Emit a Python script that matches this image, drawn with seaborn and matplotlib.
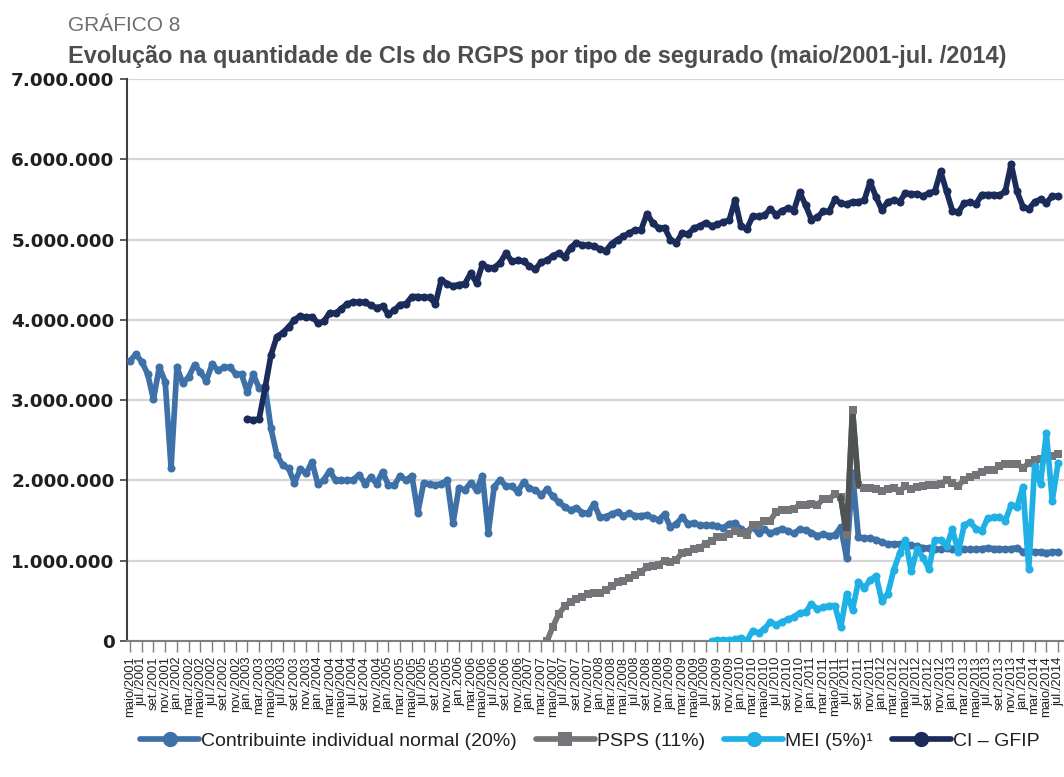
import numpy as np
import pandas as pd
import matplotlib
matplotlib.use("Agg")
import matplotlib.pyplot as plt
from matplotlib.lines import Line2D
from matplotlib.ticker import FuncFormatter, FixedLocator
import seaborn as sns

nan = np.nan

# ---------------- data (values in millions) ----------------
tick_labels = [
    "maio/2001", "jul./2001", "set./2001", "nov./2001",
    "jan./2002", "mar./2002", "maio/2002", "jul./2002", "set./2002", "nov./2002",
    "jan./2003", "mar./2003", "maio/2003", "jul./2003", "set./2003", "nov.2003",
    "jan./2004", "mar./2004", "maio/2004", "jul./2004", "set./2004", "nov./2004",
    "jan./2005", "mar./2005", "maio/2005", "jul./2005", "set./2005", "nov./2005",
    "jan.2006", "mar.2006", "maio/2006", "jul./2006", "set./2006", "nov./2006",
    "jan./2007", "mar./2007", "maio/2007", "jul./2007", "set./2007", "nov./2007",
    "jan./2008", "mar./2008", "mai./2008", "jul./2008", "set./2008", "nov./2008",
    "jan./2009", "mar./2009", "maio/2009", "jul./2009", "set./2009", "nov./2009",
    "jan./2010", "mar./2010", "maio/2010", "jul./2010", "set./2010", "nov./2010",
    "jan./2011", "mar./2011", "maio/2011", "jul./2011", "set./2011", "nov./2011",
    "jan./2012", "mar./2012", "maio/2012", "jul./2012", "set./2012", "nov./2012",
    "jan./2013", "mar./2013", "maio/2013", "jul./2013", "set./2013", "nov./2013",
    "jan./2014", "mar./2014", "maio/2014", "jul./2014",
]

ci_normal = [
    3.49, 3.57, 3.48, 3.33, 3.01, 3.41, 3.23, 2.16, 3.41, 3.21,
    3.29, 3.44, 3.35, 3.24, 3.45, 3.37, 3.41, 3.41, 3.33, 3.32,
    3.10, 3.32, 3.15, 3.17, 2.65, 2.32, 2.19, 2.15, 1.97, 2.14,
    2.09, 2.23, 1.95, 2.01, 2.12, 2.00, 2.00, 2.00, 2.01, 2.07,
    1.96, 2.04, 1.96, 2.11, 1.94, 1.94, 2.06, 2.00, 2.06, 1.60,
    1.97, 1.95, 1.94, 1.96, 2.00, 1.47, 1.91, 1.88, 1.97, 1.88,
    2.06, 1.35, 1.92, 2.01, 1.93, 1.93, 1.86, 1.98, 1.90, 1.88,
    1.82, 1.89, 1.80, 1.73, 1.67, 1.63, 1.66, 1.60, 1.59, 1.71,
    1.54, 1.55, 1.58, 1.61, 1.56, 1.59, 1.56, 1.56, 1.57, 1.53,
    1.51, 1.58, 1.42, 1.46, 1.54, 1.46, 1.47, 1.44, 1.44, 1.44,
    1.43, 1.41, 1.46, 1.47, 1.39, 1.36, 1.42, 1.34, 1.39, 1.34,
    1.37, 1.40, 1.37, 1.34, 1.39, 1.38, 1.35, 1.31, 1.33, 1.31,
    1.32, 1.42, 1.03, 2.09, 1.30, 1.28, 1.28, 1.26, 1.23, 1.21,
    1.21, 1.21, 1.21, 1.19, 1.18, 1.16, 1.16, 1.15, 1.14, 1.16,
    1.15, 1.14, 1.14, 1.14, 1.14, 1.15, 1.16, 1.15, 1.15, 1.14,
    1.15, 1.16, 1.11, 1.12, 1.11, 1.11, 1.10, 1.11, 1.11,
]

psps = [nan] * 71 + [
    0.00, 0.18, 0.34, 0.43, 0.49, 0.52, 0.55, 0.59, 0.60,
    0.60, 0.63, 0.68, 0.73, 0.75, 0.78, 0.82, 0.86, 0.92, 0.93,
    0.95, 1.00, 0.99, 1.01, 1.10, 1.11, 1.14, 1.16, 1.21, 1.25,
    1.29, 1.30, 1.33, 1.37, 1.34, 1.32, 1.45, 1.44, 1.50, 1.50,
    1.61, 1.63, 1.63, 1.64, 1.70, 1.70, 1.71, 1.69, 1.77, 1.77,
    1.83, 1.79, 1.32, 2.88, 1.94, 1.91, 1.90, 1.89, 1.87, 1.89,
    1.90, 1.87, 1.93, 1.89, 1.92, 1.93, 1.94, 1.94, 1.96, 2.00,
    1.97, 1.93, 2.01, 2.04, 2.07, 2.11, 2.13, 2.13, 2.18, 2.20,
    2.20, 2.21, 2.15, 2.22, 2.25, 2.27, 2.27, 2.30, 2.33,
]

mei = [nan] * 99 + [
    0.00,
    0.01, 0.01, 0.01, 0.02, 0.04, 0.00, 0.13, 0.10, 0.15, 0.24,
    0.20, 0.24, 0.27, 0.30, 0.35, 0.36, 0.46, 0.40, 0.42, 0.44,
    0.44, 0.17, 0.59, 0.39, 0.74, 0.66, 0.76, 0.81, 0.50, 0.59,
    0.88, 1.09, 1.26, 0.87, 1.14, 1.04, 0.90, 1.26, 1.26, 1.18,
    1.39, 1.11, 1.44, 1.48, 1.40, 1.37, 1.53, 1.54, 1.55, 1.50,
    1.69, 1.67, 1.92, 0.90, 2.18, 1.96, 2.59, 1.75, 2.22,
]

ci_gfip = [nan] * 20 + [
    2.77, 2.75, 2.77, 3.15, 3.56, 3.79, 3.84, 3.91, 4.00, 4.05,
    4.03, 4.04, 3.96, 3.98, 4.09, 4.08, 4.14, 4.20, 4.22, 4.22,
    4.22, 4.18, 4.15, 4.17, 4.07, 4.12, 4.19, 4.20, 4.29, 4.29,
    4.28, 4.28, 4.20, 4.50, 4.45, 4.42, 4.44, 4.45, 4.58, 4.46,
    4.69, 4.65, 4.65, 4.71, 4.83, 4.73, 4.74, 4.73, 4.67, 4.63,
    4.72, 4.74, 4.80, 4.83, 4.78, 4.90, 4.96, 4.93, 4.93, 4.92,
    4.88, 4.86, 4.95, 5.00, 5.04, 5.08, 5.12, 5.12, 5.32, 5.21,
    5.14, 5.15, 5.00, 4.96, 5.08, 5.07, 5.14, 5.17, 5.21, 5.17,
    5.19, 5.22, 5.24, 5.49, 5.17, 5.13, 5.29, 5.29, 5.30, 5.38,
    5.31, 5.36, 5.39, 5.36, 5.59, 5.43, 5.25, 5.28, 5.35, 5.35,
    5.50, 5.45, 5.44, 5.47, 5.47, 5.49, 5.72, 5.53, 5.37, 5.47,
    5.49, 5.47, 5.58, 5.57, 5.57, 5.54, 5.58, 5.60, 5.85, 5.60,
    5.36, 5.34, 5.45, 5.47, 5.44, 5.56, 5.56, 5.56, 5.55, 5.60,
    5.94, 5.60, 5.41, 5.38, 5.47, 5.50, 5.46, 5.54, 5.54,
]

series_names = [
    "Contribuinte individual normal (20%)",
    "PSPS (11%)",
    "MEI (5%)\u00b9",
    "CI \u2013 GFIP",
]
series_values = [ci_normal, psps, mei, ci_gfip]
colors = ["#3F71A9", "#737578", "#1FB1E6", "#1B2C5B"]
markers = ["o", "s", "o", "o"]

# ---------------- build data frame ----------------
n = len(ci_normal)
frames = []
for name, vals in zip(series_names, series_values):
    frames.append(pd.DataFrame({
        "mes": np.arange(n),
        "valor": np.array(vals, dtype=float) * 1e6,
        "serie": name,
    }))
df = pd.concat(frames, ignore_index=True).dropna()

# ---------------- figure ----------------
sns.set_theme(style="white")
plt.rcParams["font.family"] = ["Liberation Sans", "DejaVu Sans"]

fig = plt.figure(figsize=(10.64, 7.77), dpi=100)
ax = fig.add_axes([127 / 1064, 1 - 641 / 777, 937 / 1064, (641 - 79) / 777])

LW = 4.1
for name, col, mk in zip(series_names, colors, markers):
    sub = df[df["serie"] == name]
    sns.lineplot(data=sub, x="mes", y="valor", ax=ax, color=col,
                 linewidth=LW, marker=mk, markersize=5.8 if mk == "o" else 6.3,
                 markeredgewidth=0, errorbar=None, legend=False, zorder=3,
                 solid_joinstyle="round")

# darker stretch of the PSPS spike
sp = df[(df["serie"] == series_names[1]) & (df["mes"] >= 121) & (df["mes"] <= 124)]
ax.plot(sp["mes"], sp["valor"], color="#4F5354", lw=LW, zorder=3.5)
spm = sp[(sp["mes"] >= 122) & (sp["mes"] <= 123)]
ax.plot(spm["mes"], spm["valor"], ls="none", marker="s", ms=6.3, mew=0,
        color="#737578", zorder=3.6)

# axes styling
ax.set_xlim(-0.5, 159.0)
ax.set_ylim(0, 7e6)
ax.set_xlabel("")
ax.set_ylabel("")

ax.yaxis.set_major_locator(FixedLocator(np.arange(0, 7.01e6, 1e6)))
ax.yaxis.set_major_formatter(FuncFormatter(
    lambda v, p: "0" if v == 0 else f"{int(round(v)):,}".replace(",", ".")))
ax.grid(axis="y", color="#D6D6D6", linewidth=1.6, zorder=0)
ax.grid(axis="x", visible=False)
ax.set_axisbelow(True)

ax.set_xticks(np.arange(0, n, 2))
ax.set_xticklabels(tick_labels, rotation=90, fontsize=9.4, color="#231F20")
ax.tick_params(axis="x", direction="out", length=8, width=1,
               color="#7F7F7F", pad=3, bottom=True)
ax.tick_params(axis="y", direction="out", length=5, width=1.2,
               color="#404040", pad=4, left=True)
for lbl in ax.get_yticklabels():
    lbl.set_fontfamily("DejaVu Sans")
    lbl.set_fontweight("bold")
    lbl.set_fontsize(13.2)
    lbl.set_color("#231F20")

for s in ["top", "right"]:
    ax.spines[s].set_visible(False)
ax.spines["left"].set_color("#404040")
ax.spines["left"].set_linewidth(1.5)
ax.spines["bottom"].set_color("#7F7F7F")
ax.spines["bottom"].set_linewidth(1.5)

# titles
fig.text(68 / 1064, 1 - 31 / 777, "GRÁFICO 8", fontsize=15,
         color="#6D6E71", ha="left", va="baseline")
fig.text(68 / 1064, 1 - 63 / 777,
         "Evolução na quantidade de CIs do RGPS por tipo de segurado (maio/2001-jul. /2014)",
         fontsize=16.9, fontweight="bold", color="#4D4D4F", ha="left", va="baseline")

# legend
handles = [Line2D([], [], color=c, lw=LW, marker=m, ms=11 if m == "o" else 10,
                  mew=0) for c, m in zip(colors, markers)]
fig.legend(handles, series_names, loc="center", ncol=4,
           bbox_to_anchor=(590 / 1064, 1 - 741 / 777), frameon=False,
           fontsize=14, handlelength=3.0, handletextpad=0.12,
           columnspacing=1.0, labelcolor="#231F20")

fig.savefig("out.png", dpi=100)
